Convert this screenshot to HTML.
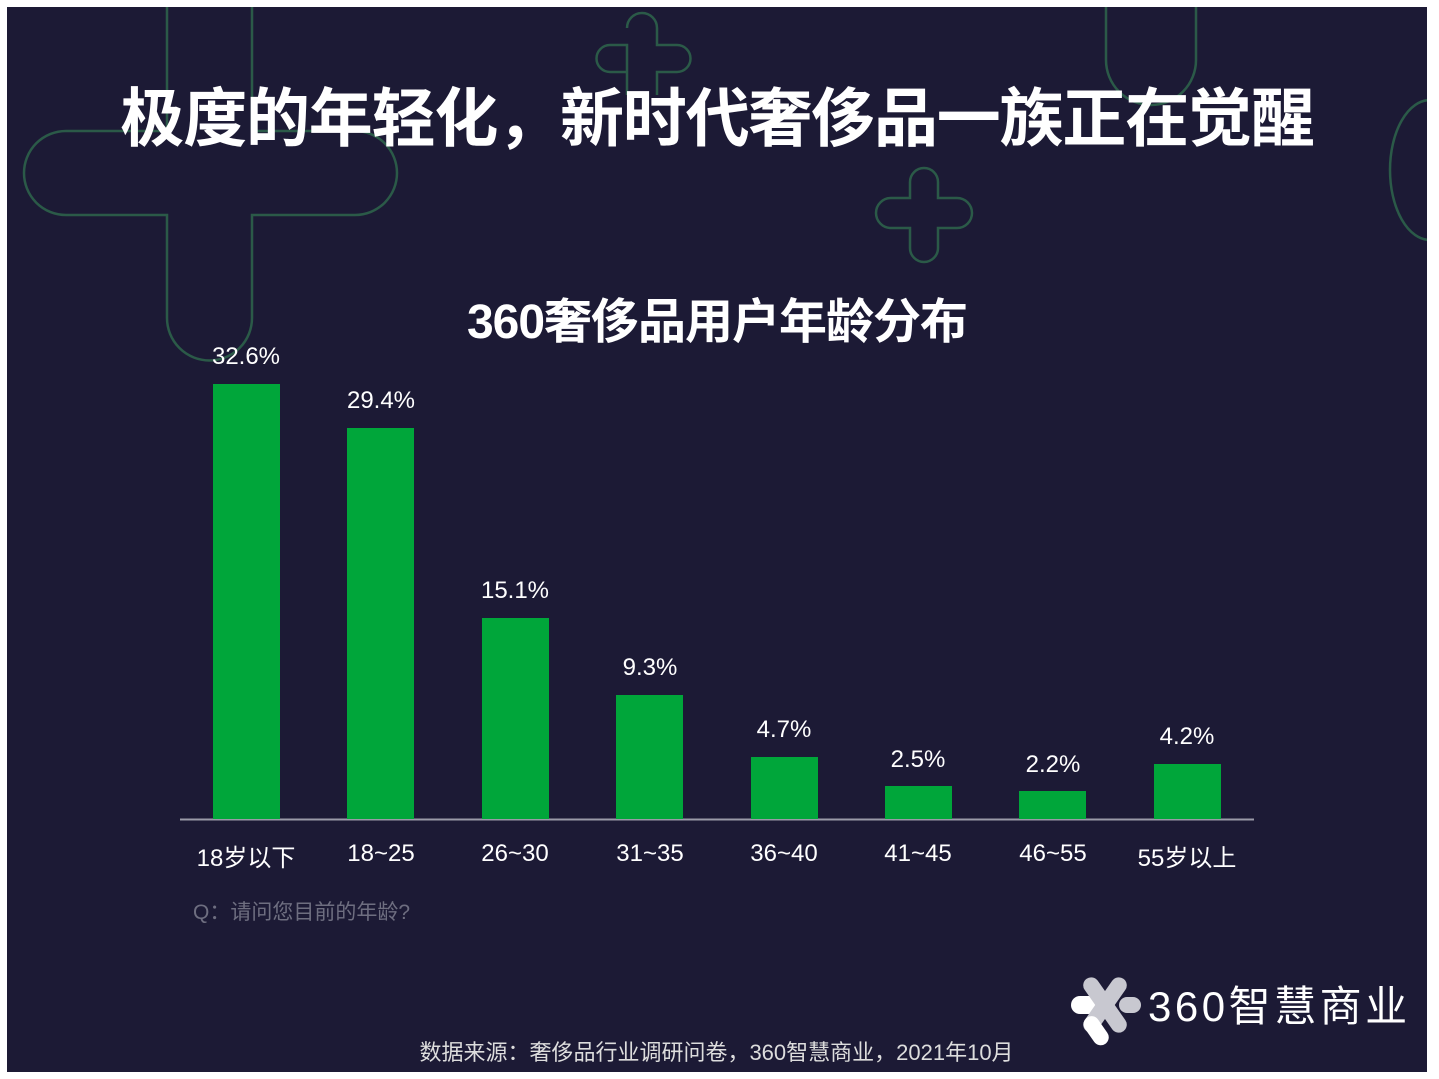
<!DOCTYPE html>
<html><head><meta charset="utf-8"><style>
body{margin:0;background:#fff;width:1439px;height:1079px;overflow:hidden;font-family:"Liberation Sans","Noto Sans CJK SC",sans-serif}
#p{position:absolute;left:7px;top:7px;width:1420px;height:1065px;background:#1c1a35;overflow:hidden}
.t{position:absolute;color:#fff;white-space:nowrap}
</style></head><body>
<div id="p"></div>
<svg width="1439" height="1079" style="position:absolute;left:0;top:0">
<defs><clipPath id="c"><rect x="7" y="7" width="1420" height="1065"/></clipPath></defs>
<g clip-path="url(#c)" fill="none" stroke="#2b5a48" stroke-width="2.5">
<path d="M167,0 V131 H66 A42,42 0 0 0 66,215 H167 V318 A42,42 0 0 0 252,318 V215 H355 A42,42 0 0 0 355,131 H252 V0"/>
<path d="M627,28 A15,15 0 0 1 657,28 V45 H677 A13,13 0 0 1 677,72 H657 V95 M627,95 V72 H610 A13,13 0 0 1 610,45 H627 Z"/>
<path d="M910,182 A14,14 0 0 1 938,182 V198 H957 A15,15 0 0 1 957,228 H938 V248 A14,14 0 0 1 910,248 V228 H891 A15,15 0 0 1 891,198 H910 Z"/>
<path d="M1106,0 V60 A45,45 0 0 0 1196,60 V0"/>
<path d="M1430,100 A40,70 0 0 0 1430,240"/>
</g>
<line x1="180" y1="819.5" x2="1254" y2="819.5" stroke="#9a9aa8" stroke-width="2"/>
<g fill="#00a63a">
<rect x="213" y="384" width="67" height="435"/>
<rect x="347" y="428" width="67" height="391"/>
<rect x="482" y="618" width="67" height="201"/>
<rect x="616" y="695" width="67" height="124"/>
<rect x="751" y="757" width="67" height="62"/>
<rect x="885" y="786" width="67" height="33"/>
<rect x="1019" y="791" width="67" height="28"/>
<rect x="1154" y="764" width="67" height="55"/>
</g>
<g fill="#fff" font-size="24" text-anchor="middle" font-family="Liberation Sans,Noto Sans CJK SC,sans-serif">
<text x="246" y="364">32.6%</text><text x="381" y="408">29.4%</text><text x="515" y="598">15.1%</text><text x="650" y="675">9.3%</text>
<text x="784" y="737">4.7%</text><text x="918" y="767">2.5%</text><text x="1053" y="772">2.2%</text><text x="1187" y="744">4.2%</text>
<text x="246" y="866">18岁以下</text><text x="381" y="861">18~25</text><text x="515" y="861">26~30</text><text x="650" y="861">31~35</text>
<text x="784" y="861">36~40</text><text x="918" y="861">41~45</text><text x="1053" y="861">46~55</text><text x="1187" y="866">55岁以上</text>
</g>
<g transform="translate(1105,1005)">
<rect x="-34" y="-9" width="40" height="18" rx="9" fill="#fff"/>
<rect x="-32" y="-8" width="64" height="16" rx="8" fill="#c8c8d0" transform="rotate(55)"/>
<rect x="-32" y="-8" width="64" height="16" rx="8" fill="#c8c8d0" transform="rotate(-55)"/>
<rect x="0" y="14" width="32" height="16" rx="8" fill="#fff" transform="rotate(55)"/>
<rect x="14" y="-8" width="22" height="16" rx="8" fill="#c8c8d0"/>
</g>
</svg>
<div class="t" style="left:0;width:1434px;text-align:center;top:68px;font-size:64px;font-weight:bold;letter-spacing:-1.2px">极度的年轻化，新时代奢侈品一族正在觉醒</div>
<div class="t" style="left:0;width:1434px;text-align:center;top:282px;font-size:48px;font-weight:bold;letter-spacing:-1px">360奢侈品用户年龄分布</div>
<div class="t" style="left:193px;top:896px;font-size:21px;color:#6e6e80">Q：请问您目前的年龄?</div>
<div class="t" style="left:1148px;top:973px;font-size:42px;letter-spacing:3.5px;color:#fff">360智慧商业</div>
<div class="t" style="left:0;width:1433px;text-align:center;top:1035px;font-size:22px;color:#ddd">数据来源：奢侈品行业调研问卷，360智慧商业，2021年10月</div>
</body></html>
